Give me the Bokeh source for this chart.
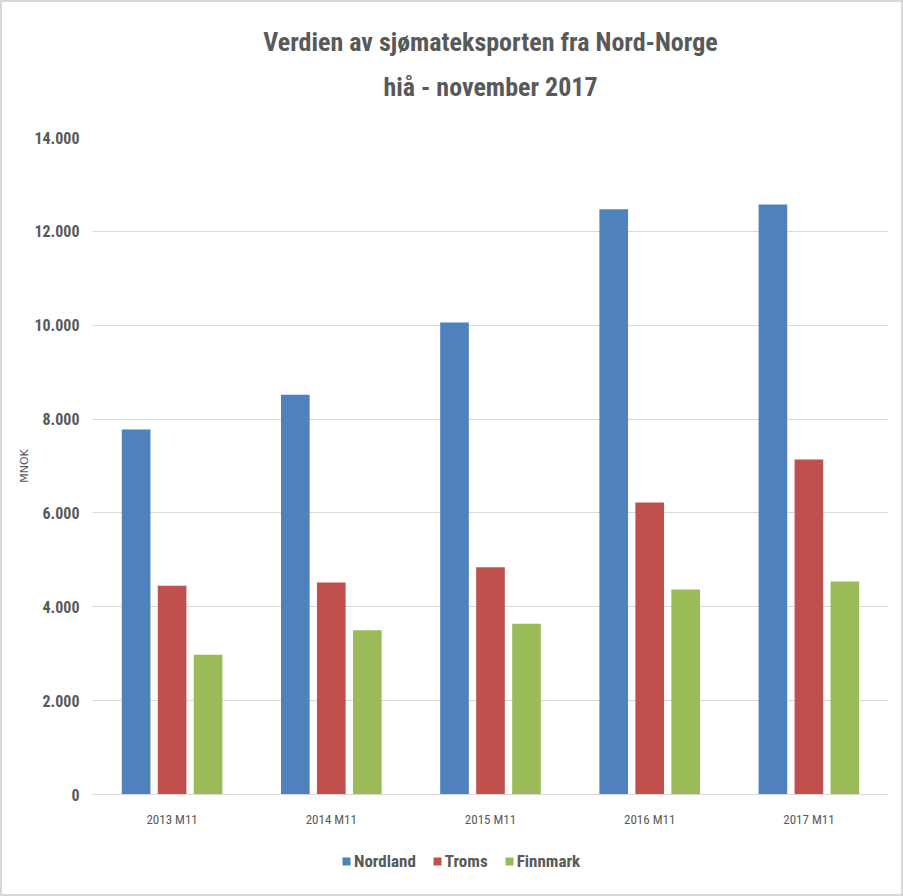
from bokeh.plotting import figure
from bokeh.layouts import column
from bokeh.models import (FactorRange, Range1d, CustomJSTickFormatter, FixedTicker, Legend,
                          LegendItem, ColumnDataSource, Title)
from bokeh.transform import dodge
from bokeh.embed import file_html
from bokeh.resources import INLINE

periods = ["2013 M11", "2014 M11", "2015 M11", "2016 M11", "2017 M11"]
nordland = [7780, 8520, 10060, 12470, 12570]
troms = [4450, 4520, 4840, 6220, 7140]
finnmark = [2980, 3500, 3640, 4370, 4540]
yticks = [0, 2000, 4000, 6000, 8000, 10000, 12000, 14000]
series_names = ["Nordland", "Troms", "Finnmark"]
series_colors = ["#4f81bd", "#c0504d", "#9bbb59"]
title_line1 = "Verdien av sjømateksporten fra Nord-Norge"
title_line2 = "hiå - november 2017"

FONT = "'Liberation Sans Narrow', 'Arial Narrow', 'Roboto Condensed', sans-serif"
GREY = "#595959"

src = ColumnDataSource(dict(period=periods, Nordland=nordland, Troms=troms, Finnmark=finnmark))

p = figure(x_range=FactorRange(*periods), y_range=Range1d(0, 14000),
           frame_width=796, frame_height=657, output_backend="svg", toolbar_location=None,
           min_border_left=90, min_border_right=13, min_border_top=135, min_border_bottom=52)

# spacer, then second line, then first line (stacked outward from the plot frame)
p.add_layout(Title(text=" ", text_font_size="1px", standoff=26), "above")
p.add_layout(Title(text=title_line2, text_font=FONT, text_font_size="26px",
                   text_font_style="bold", text_color=GREY, align="center", standoff=13,
                   offset=-39), "above")
p.add_layout(Title(text=title_line1, text_font=FONT, text_font_size="26px",
                   text_font_style="bold", text_color=GREY, align="center", standoff=13,
                   offset=-39), "above")

w = 0.18
offsets = [-0.226, 0.0, 0.226]
for name, color, off in zip(series_names, series_colors, offsets):
    p.vbar(x=dodge("period", off, range=p.x_range), top=name, width=w, source=src,
           fill_color=color, line_color=None)

p.yaxis.ticker = FixedTicker(ticks=yticks)
p.yaxis.formatter = CustomJSTickFormatter(code="return tick.toFixed(0).replace(/\\B(?=(\\d{3})+(?!\\d))/g, '.');")
p.yaxis.axis_label = "MNOK"
p.yaxis.axis_label_text_font = "DejaVu Sans"
p.yaxis.axis_label_text_font_size = "11px"
p.yaxis.axis_label_text_font_style = "normal"
p.yaxis.axis_label_text_color = GREY
p.yaxis.axis_label_standoff = 0
p.yaxis.major_label_text_font = FONT
p.yaxis.major_label_text_font_size = "16px"
p.yaxis.major_label_text_font_style = "bold"
p.yaxis.major_label_text_color = GREY
p.yaxis.major_label_standoff = 7
p.yaxis.axis_line_color = None
p.yaxis.major_tick_line_color = None
p.yaxis.minor_tick_line_color = None

p.xaxis.major_label_text_font = FONT
p.xaxis.major_label_text_font_size = "13px"
p.xaxis.major_label_text_color = GREY
p.xaxis.major_label_standoff = 11
p.xaxis.axis_line_color = "#d9d9d9"
p.xaxis.major_tick_line_color = None
p.xaxis.minor_tick_line_color = None

p.xgrid.grid_line_color = None
p.ygrid.grid_line_color = "#d9d9d9"
p.outline_line_color = None

# legend strip below the chart (same series, kept entirely below its visible y-range)
pl = figure(width=899, height=48, output_backend="svg", toolbar_location=None,
            x_axis_type=None, y_axis_type=None, x_range=p.x_range,
            y_range=Range1d(20000, 20001),
            min_border=0, min_border_left=0, min_border_right=0, min_border_top=0,
            min_border_bottom=0)
pl.outline_line_color = None
pl.xgrid.visible = False
pl.ygrid.visible = False
items = []
for name, color, off in zip(series_names, series_colors, offsets):
    r = pl.vbar(x=dodge("period", off, range=p.x_range), top=name, width=w, source=src,
                fill_color=color, line_color=None)
    items.append(LegendItem(label=name, renderers=[r]))

legend = Legend(items=items, orientation="horizontal", location=(249, 23),
                label_text_font=FONT, label_text_font_size="17px", label_text_font_style="bold",
                label_text_color=GREY, glyph_width=10, glyph_height=10, spacing=16,
                label_standoff=3, border_line_color=None, background_fill_alpha=0,
                padding=0, margin=0)
pl.add_layout(legend, "center")

layout = column(p, pl, spacing=0, styles={"border": "2px solid #d9d9d9"})

open("out.html", "w").write(file_html(layout, INLINE))
